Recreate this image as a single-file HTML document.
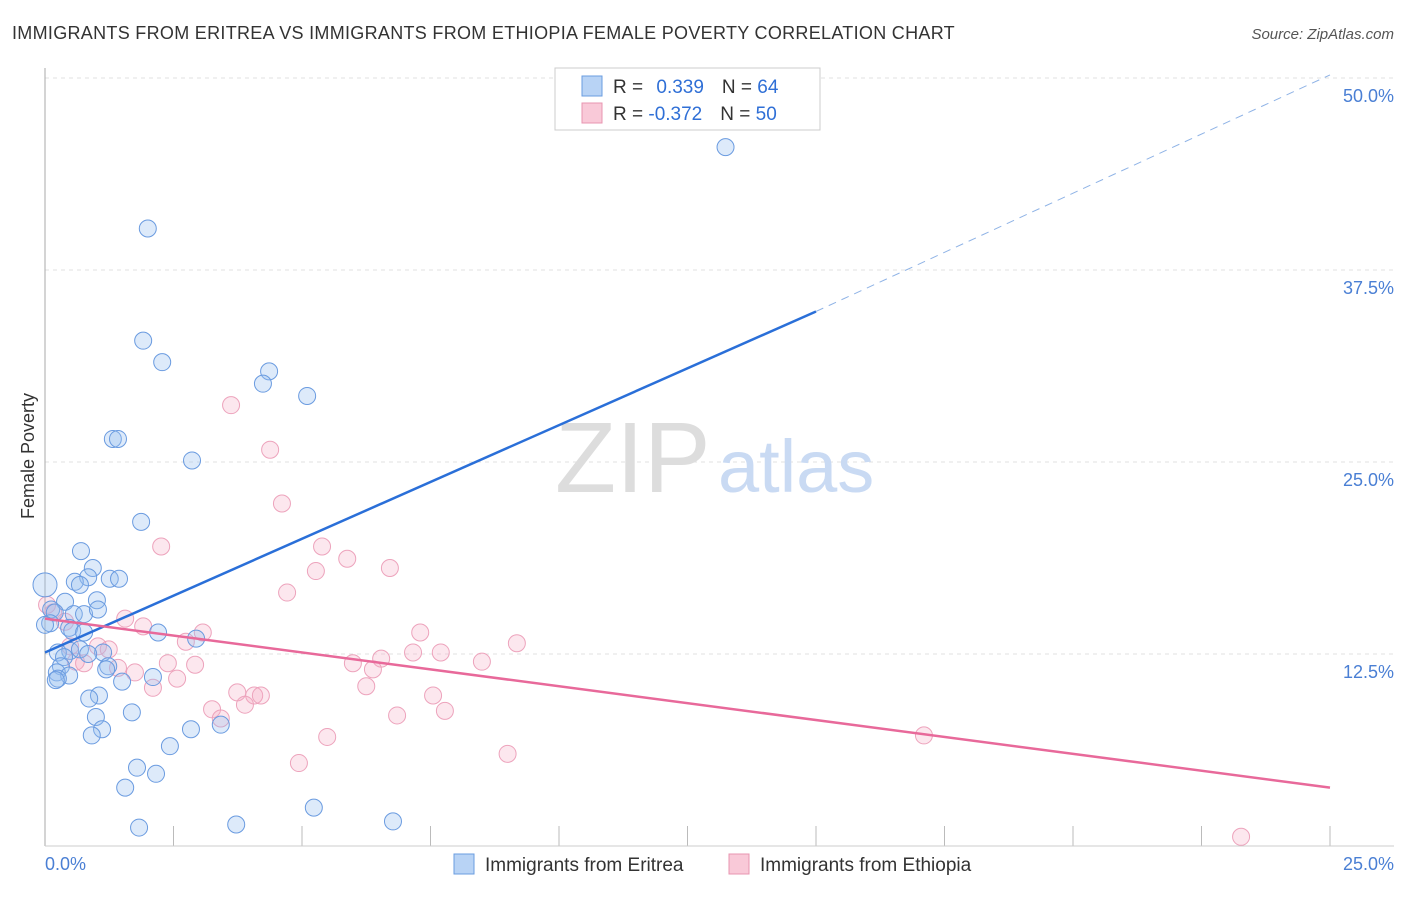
<!DOCTYPE html>
<html><head><meta charset="utf-8"><style>
body{margin:0;background:#fff;font-family:"Liberation Sans",sans-serif;}
svg text{font-family:"Liberation Sans",sans-serif;}
</style></head><body>
<svg width="1406" height="892" xmlns="http://www.w3.org/2000/svg">
<text x="12" y="39" font-size="18" fill="#333" letter-spacing="0.3">IMMIGRANTS FROM ERITREA VS IMMIGRANTS FROM ETHIOPIA FEMALE POVERTY CORRELATION CHART</text>
<text x="1394" y="39" font-size="15" fill="#555" font-style="italic" text-anchor="end">Source: ZipAtlas.com</text>
<g id="grid"></g>
<line x1="45" y1="68" x2="45" y2="846" stroke="#aaa"/>
<line x1="45" y1="846" x2="1394" y2="846" stroke="#ccc"/>
<text x="555" y="492" font-size="100" fill="#ddd" font-family="Liberation Serif">ZIP</text>
<text x="718" y="492" font-size="74" fill="#c9daf3">atlas</text>
<text x="34" y="456" font-size="18" fill="#333" transform="rotate(-90 34 456)" text-anchor="middle">Female Poverty</text>
<text x="45" y="870" font-size="18" fill="#4a7fd4">0.0%</text>
<text x="1394" y="870" font-size="18" fill="#4a7fd4" text-anchor="end">25.0%</text>
<g id="pts"></g>
<g id="lines"></g>
<g>
<rect x="555" y="68" width="265" height="62" fill="#fff" stroke="#ccc"/>
<rect x="582" y="76" width="20" height="20" fill="#b8d3f5" stroke="#6a9de0"/>
<rect x="582" y="103" width="20" height="20" fill="#f9c9d8" stroke="#e895b0"/>
<text x="613" y="93" font-size="19" fill="#333">R = <tspan fill="#2f6fd6" dx="8">0.339</tspan><tspan dx="18" fill="#333">N = </tspan><tspan fill="#2f6fd6">64</tspan></text>
<text x="613" y="120" font-size="19" fill="#333">R = <tspan fill="#2f6fd6">-0.372</tspan><tspan dx="18" fill="#333">N = </tspan><tspan fill="#2f6fd6">50</tspan></text>
</g>
<g>
<rect x="454" y="854" width="20" height="20" fill="#b8d3f5" stroke="#6a9de0"/>
<text x="485" y="871" font-size="19" fill="#333">Immigrants from Eritrea</text>
<rect x="729" y="854" width="20" height="20" fill="#f9c9d8" stroke="#e895b0"/>
<text x="760" y="871" font-size="19" fill="#333">Immigrants from Ethiopia</text>
</g>
</svg>
<script>
const yTicks=[12.5,25,37.5,50];
const yTickLabels=["12.5%","25.0%","37.5%","50.0%"];
const xTicks=[0,2.5,5,7.5,10,12.5,15,17.5,20,22.5,25];
const eritreaX=[13.24,2.0,1.91,2.28,4.36,4.24,5.1,1.32,1.42,2.86,1.87,0.7,0.93,0.84,0.58,0.68,1.26,1.44,0.0,0.39,1.01,0.12,0.19,0.56,0.76,1.03,0.1,0.47,0.53,0.76,2.2,2.94,0.49,0.25,0.68,1.13,0.84,0.37,0.31,0.23,1.23,1.19,2.1,0.47,0.25,0.21,1.5,1.05,0.86,1.69,0.99,1.11,2.84,3.42,0.91,2.43,1.79,2.16,1.56,5.23,1.83,3.72,6.77,0.0];
const eritreaY=[45.5,40.2,32.9,31.5,30.9,30.1,29.3,26.5,26.5,25.1,21.1,19.2,18.1,17.5,17.2,17.0,17.4,17.4,17.0,15.9,16.0,15.4,15.2,15.1,15.1,15.4,14.5,14.2,14.0,13.9,13.9,13.5,12.7,12.6,12.8,12.6,12.5,12.3,11.7,11.3,11.7,11.5,11.0,11.1,10.9,10.8,10.7,9.8,9.6,8.7,8.4,7.6,7.6,7.9,7.2,6.5,5.1,4.7,3.8,2.5,1.2,1.4,1.6,14.4];
const ethiopiaX=[3.62,4.38,4.61,2.26,5.39,5.88,5.27,6.71,4.71,0.04,0.16,1.56,1.91,0.39,3.07,7.3,9.18,1.03,1.24,2.74,0.49,7.7,7.16,8.5,5.99,6.54,6.38,2.39,2.92,0.6,0.76,1.75,1.42,2.57,2.1,6.25,3.74,4.07,4.2,7.55,3.89,3.25,3.42,7.78,6.85,5.49,4.94,9.0,17.1,23.27];
const ethiopiaY=[28.7,25.8,22.3,19.5,19.5,18.7,17.9,18.1,16.5,15.7,15.2,14.8,14.3,14.6,13.9,13.9,13.2,13.0,12.8,13.3,13.0,12.6,12.6,12.0,11.9,12.2,11.5,11.9,11.8,12.0,11.9,11.3,11.6,10.9,10.3,10.4,10.0,9.8,9.8,9.8,9.2,8.9,8.3,8.8,8.5,7.1,5.4,6.0,7.2,0.6];
const eritreaFit=[0,12.6,15,34.8,25,50.2];
const ethiopiaFit=[0,14.8,25,3.8];
const NS="http://www.w3.org/2000/svg";
const X=v=>45+v*51.4, Y=v=>846-v*15.36;
const grid=document.getElementById('grid');
yTicks.forEach((t,i)=>{
 const l=document.createElementNS(NS,'line');
 l.setAttribute('x1',45);l.setAttribute('x2',1394);l.setAttribute('y1',Y(t));l.setAttribute('y2',Y(t));
 l.setAttribute('stroke','#e2e2e2');l.setAttribute('stroke-dasharray','4,4');
 
 
 grid.appendChild(l);
 const tx=document.createElementNS(NS,'text');
 tx.setAttribute('x',1394);tx.setAttribute('y',Y(t)+24);tx.setAttribute('text-anchor','end');
 tx.setAttribute('font-size','18');tx.setAttribute('fill','#4a7fd4');tx.textContent=yTickLabels[i];
 
 
 grid.appendChild(tx);
});
xTicks.forEach(t=>{
 const l=document.createElementNS(NS,'line');
 l.setAttribute('x1',X(t));l.setAttribute('x2',X(t));l.setAttribute('y1',826);l.setAttribute('y2',846);
 l.setAttribute('stroke','#bbb');
 
 
 grid.appendChild(l);
});
const pts=document.getElementById('pts');
function dots(xs,ys,fill,stroke,name){
 xs.forEach((x,i)=>{
  const c=document.createElementNS(NS,'circle');
  c.setAttribute('cx',X(x));c.setAttribute('cy',Y(ys[i]));c.setAttribute('r',(x===0&&name==='eritrea-point'&&ys[i]===17)?12:8.5);
  c.setAttribute('fill',fill);c.setAttribute('stroke',stroke);c.setAttribute('stroke-width','1');
  
  
  pts.appendChild(c);
 });
}
dots(ethiopiaX,ethiopiaY,'rgba(246,170,195,0.28)','#eda3bc','ethiopia-point');
dots(eritreaX,eritreaY,'rgba(150,190,240,0.32)','#6a9be0','eritrea-point');
const lines=document.getElementById('lines');
function seg(x1,y1,x2,y2,col,dash,name){
 const l=document.createElementNS(NS,'line');
 l.setAttribute('x1',X(x1));l.setAttribute('y1',Y(y1));l.setAttribute('x2',X(x2));l.setAttribute('y2',Y(y2));
 l.setAttribute('stroke',col);l.setAttribute('stroke-width',dash?1:2.5);
 if(dash)l.setAttribute('stroke-dasharray','8,6');
 
 
 lines.appendChild(l);
}
seg(eritreaFit[0],eritreaFit[1],eritreaFit[2],eritreaFit[3],'#2a6fd8',false,'eritrea-trend-line');
seg(eritreaFit[2],eritreaFit[3],eritreaFit[4],eritreaFit[5],'#8fb3e6',true,'eritrea-trend-extension');
seg(ethiopiaFit[0],ethiopiaFit[1],ethiopiaFit[2],ethiopiaFit[3],'#e8699a',false,'ethiopia-trend-line');
</script>
</body></html>
